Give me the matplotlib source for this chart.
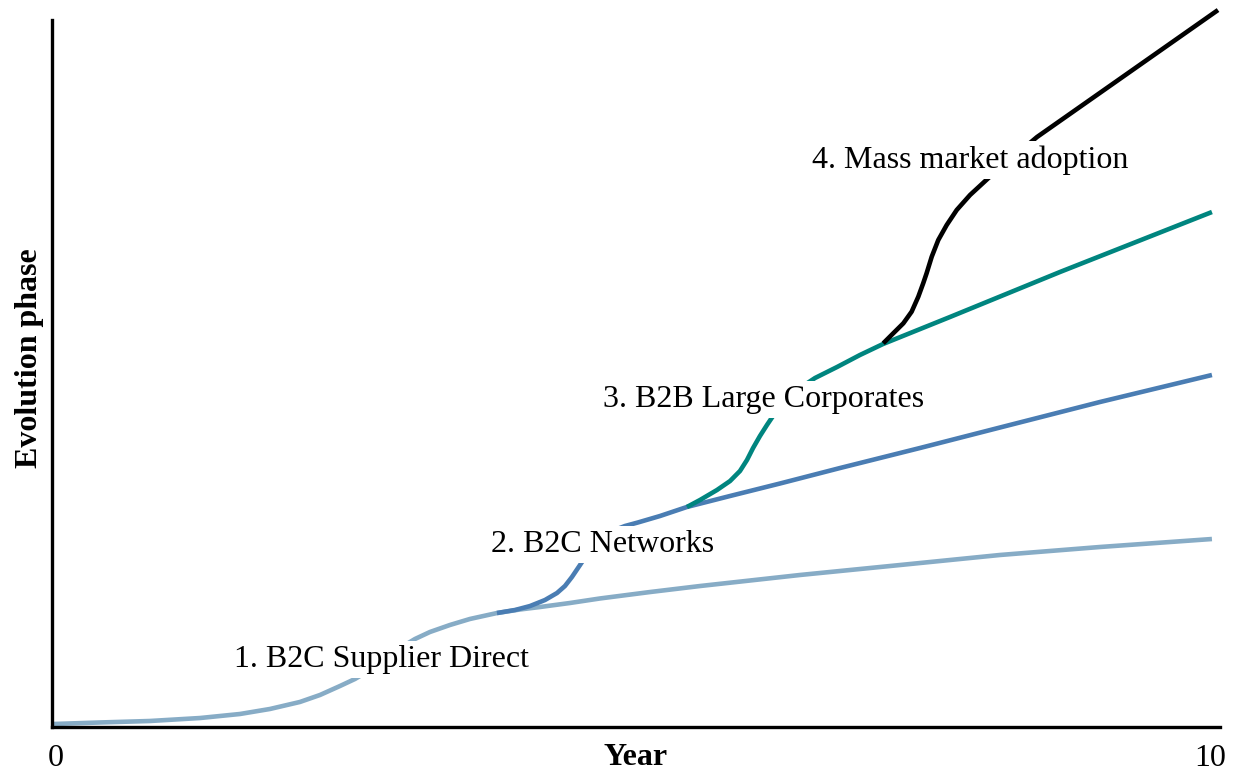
import matplotlib.pyplot as plt

plt.rcParams['font.family'] = ['Liberation Serif', 'DejaVu Serif']

# phase curves (year, evolution level)
p1_x = [0.01, 0.415, 0.843, 1.271, 1.613, 1.870, 2.126, 2.298, 2.469, 2.597, 2.726,
        2.854, 2.982, 3.111, 3.239, 3.410, 3.581, 3.812, 4.009, 4.180, 4.437, 4.694,
        5.122, 5.550, 6.405, 7.261, 8.117, 8.973, 9.931]
p1_y = [0.42, 0.64, 0.85, 1.27, 1.84, 2.55, 3.54, 4.53, 5.80, 6.79, 8.06,
        9.62, 11.17, 12.45, 13.44, 14.43, 15.28, 16.12, 16.62, 16.97, 17.54, 18.18,
        19.09, 19.94, 21.50, 22.91, 24.33, 25.46, 26.59]

p2_x = [3.812, 3.967, 4.095, 4.223, 4.326, 4.394, 4.454, 4.523, 4.608, 4.694, 4.797,
        4.908, 5.019, 5.207, 5.438, 5.806, 6.234, 6.748, 7.432, 8.117, 8.973, 9.931]
p2_y = [16.12, 16.55, 17.11, 17.96, 18.95, 19.94, 21.22, 22.91, 25.04, 26.59, 27.72,
        28.43, 28.93, 29.84, 31.12, 32.67, 34.44, 36.63, 39.46, 42.36, 45.97, 49.79]

p3_x = [5.438, 5.550, 5.695, 5.807, 5.892, 5.952, 6.004, 6.063, 6.123, 6.192, 6.277,
        6.380, 6.534, 6.723, 6.919, 7.116, 7.689, 8.631, 9.931]
p3_y = [31.12, 32.11, 33.52, 34.79, 36.21, 37.77, 39.46, 41.16, 42.72, 44.41, 46.11,
        47.67, 49.36, 50.92, 52.62, 54.17, 57.99, 64.36, 72.84]

p4_x = [7.118, 7.204, 7.290, 7.361, 7.418, 7.460, 7.489, 7.533, 7.589, 7.661, 7.747,
        7.861, 8.031, 8.220, 8.434, 9.983]
p4_y = [54.27, 55.69, 57.10, 58.74, 60.86, 62.76, 64.17, 66.52, 68.88, 71.00, 73.13,
        75.25, 77.84, 80.48, 83.45, 101.41]

phase_labels = ['1. B2C Supplier Direct', '2. B2C Networks',
                '3. B2B Large Corporates', '4. Mass market adoption']
colors = ['#87acc6', '#4a7db3', '#00857f', '#000000']

fig = plt.figure(figsize=(12.36, 7.71), dpi=100)
ax = fig.add_axes([51.5 / 1236, 44 / 771, 1168.5 / 1236, 707 / 771])

for xs, ys, c in zip([p1_x, p2_x, p3_x, p4_x], [p1_y, p2_y, p3_y, p4_y], colors):
    ax.plot(xs, ys, color=c, linewidth=3.3, solid_capstyle='butt',
            solid_joinstyle='round', clip_on=False)

# label boxes hide the curves underneath
label_pos = [(2.82, 9.5), (4.72, 25.8), (6.09, 46.3), (7.86, 80.2)]
for (lx, ly), txt in zip(label_pos, phase_labels):
    ax.text(lx, ly, txt, fontsize=23, ha='center', va='center', zorder=5,
            bbox=dict(facecolor='white', edgecolor='none', pad=3))

ax.set_xlim(0, 10)
ax.set_ylim(0, 100)
# end labels sit slightly inside the axis ends
ax.set_xticks([0.035, 9.92])
ax.set_xticklabels(['0', '10'], fontsize=23)
ax.set_yticks([])
ax.tick_params(axis='x', length=0, pad=12)
for s in ['top', 'right']:
    ax.spines[s].set_visible(False)
for s in ['left', 'bottom']:
    ax.spines[s].set_linewidth(2.4)
ax.set_xlabel('Year', fontsize=23, fontweight='bold', labelpad=-21.5)
ax.set_ylabel('Evolution phase', fontsize=23, fontweight='bold')
ax.yaxis.set_label_coords(-0.0064, 0.522)

fig.savefig('out.png', dpi=100)
